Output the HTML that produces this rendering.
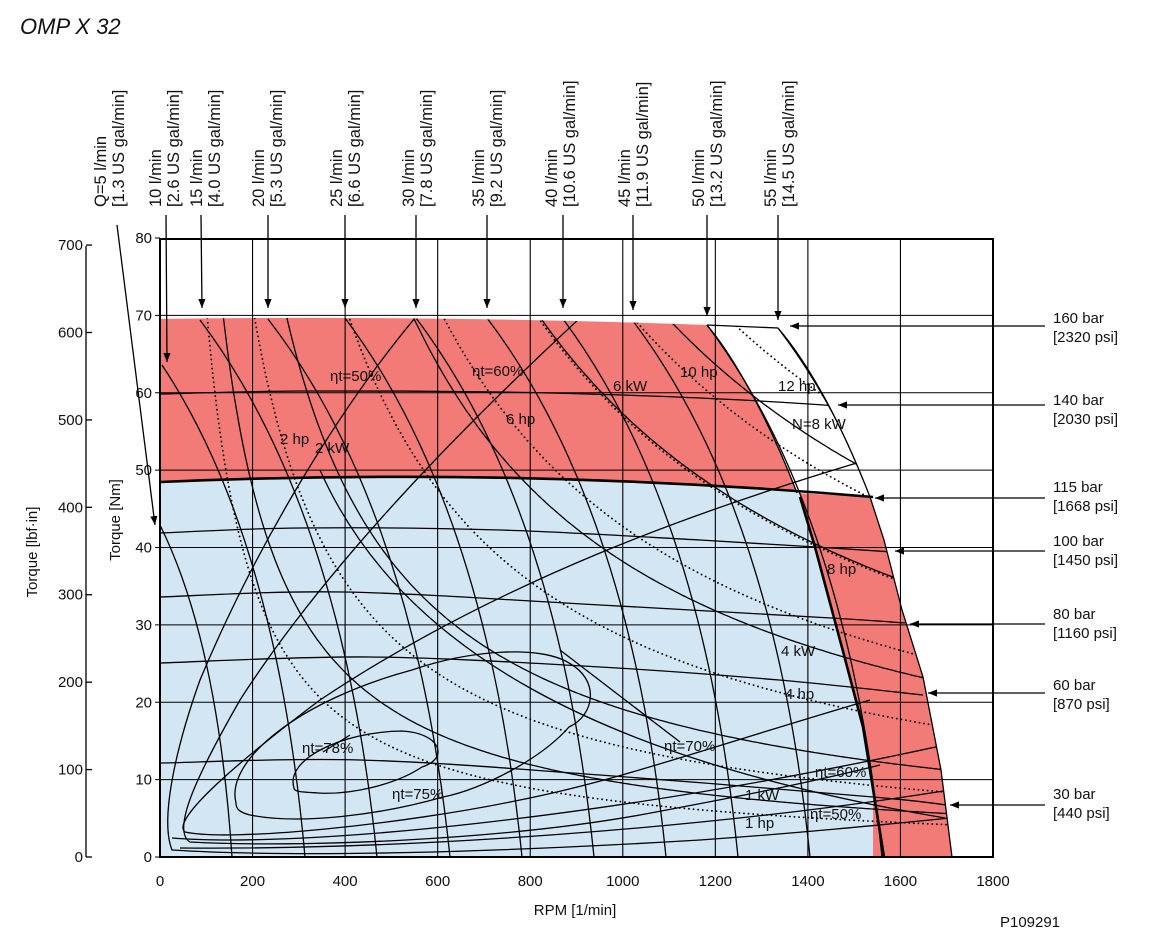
<!DOCTYPE html>
<html><head><meta charset="utf-8"><style>
html,body{margin:0;padding:0;background:#fff}
svg{display:block}
text{font-family:"Liberation Sans",sans-serif;fill:#111}
</style></head><body>
<svg id="s" width="1163" height="948" viewBox="0 0 1163 948" xmlns="http://www.w3.org/2000/svg">
<defs>
<marker id="ar" viewBox="0 0 10 10" refX="10" refY="5" markerWidth="9" markerHeight="9" markerUnits="userSpaceOnUse" orient="auto"><path d="M0,1 L10,5 L0,9 Z" fill="#000"/></marker>
<clipPath id="env"><path d="M160,319 Q430,315 707,325 L778,328 C808,363 840,420 870,497 L884,540 902,610 923,677 941,770 952,857 L160,857 Z"/></clipPath>
<clipPath id="leftb"><path d="M0,0 L800,0 800,497 815,547 844,655 863,727 884,857 L0,857 Z"/></clipPath>
</defs>
<text x="20" y="34" font-size="22" font-style="italic">OMP X 32</text>
<path d="M160,319 Q430,315 707,325 C730,352 765,410 797,493 L870,497 884,540 902,610 923,677 941,770 952,857 L160,857 Z" fill="#f27a77"/>
<path d="M160,482 Q516,466.5 873,497 L873,857 L160,857 Z" fill="#d3e6f3" clip-path="url(#leftb)"/>
<g id="grid" stroke="#000" stroke-width="1.1" fill="none"></g>
<g id="curves" clip-path="url(#env)" fill="none" stroke="#000" stroke-width="1.3"></g>
<g id="outer" fill="none" stroke="#000" stroke-width="1.3">
<path d="M707,325 L778,328 C808,363 840,420 870,497"/>
<path d="M707,325 C730,352 765,410 797,493"/>
<path d="M870,497 L884,540 902,610 923,677 941,770 952,857"/>
<path d="M160,482 Q516,466.5 873,497" stroke-width="2.6"/>
<path d="M800,497 L815,547 844,655 863,727 884,857" stroke-width="2.6"/>
</g>
<rect x="160" y="239" width="833" height="618" fill="none" stroke="#000" stroke-width="2"/>
<g id="labels" font-size="15"></g>
<g id="axes" font-size="15"></g>
</svg>
<script>
var NS="http://www.w3.org/2000/svg";
function el(p,tag,a,txt){var e=document.createElementNS(NS,tag);for(var k in a)e.setAttribute(k,a[k]);if(txt!=null)e.textContent=txt;document.getElementById(p).appendChild(e);return e;}
function X(n){return 160+n*0.46278;}
function Y(t){return 857-t*7.7375;}
for(var r=200;r<1800;r+=200)el("grid","line",{x1:X(r),y1:239,x2:X(r),y2:857});
for(var t=10;t<80;t+=10)el("grid","line",{x1:160,y1:Y(t),x2:993,y2:Y(t)});
function pl(pts){return "M"+pts.map(function(p){return p[0]+","+p[1]}).join(" L");}
function sm(pts){var d="M"+pts[0][0]+","+pts[0][1];for(var i=0;i<pts.length-1;i++){var p0=pts[i-1]||pts[i],p1=pts[i],p2=pts[i+1],p3=pts[i+2]||p2;
d+=" C"+(p1[0]+(p2[0]-p0[0])/6)+","+(p1[1]+(p2[1]-p0[1])/6)+" "+(p2[0]-(p3[0]-p1[0])/6)+","+(p2[1]-(p3[1]-p1[1])/6)+" "+p2[0]+","+p2[1];}return d;}
function hyp(P,dot){var pts=[];for(var n=60;n<=1800;n+=5){var T=P*9549/n;if(T>82)continue;pts.push([X(n).toFixed(1),Y(T).toFixed(1)]);}
var a={d:pl(pts)};if(dot){a["stroke-dasharray"]="0.1 4.5";a["stroke-linecap"]="round";a["stroke-width"]="1.8";}el("curves","path",a);}
[1,2,4,6,8].forEach(function(p){hyp(p,false)});
[1,2,4,6,8,10,12].forEach(function(h){hyp(h*0.7457,true)});
var fl=[[160,525,232],[162,365,305],[200,320,377],[268,319,450],[345,318,522],[416,318,594],[487,318,666],[563,319,738],[633,321,810],[707,325,882],[778,328,954]];
fl.forEach(function(f){var cx=f[2]-(f[2]-f[0])*0.2,cy=f[1]+(857-f[1])*0.35;el("curves","path",{d:"M"+f[0]+","+f[1]+" Q"+cx+","+cy+" "+f[2]+",857"});});
[[[160,394],[300,391],[500,392],[650,396],[760,401],[838,406]],
 [[160,533],[300,528],[500,530],[700,540],[816,547],[893,552]],
 [[160,597],[344,592],[600,605],[831,618],[905,623]],
 [[160,663],[370,657],[600,667],[779,680],[923,695]],
 [[160,763],[360,760],[600,775],[873,797],[947,805]]].forEach(function(p){el("curves","path",{d:sm(p)});});
var eff=[
"M294,788 C285,760 340,732 402,731 C440,733 450,758 422,767 C395,785 350,795 318,793 C302,792 294,792 294,788 Z",
"M236,803 C225,760 300,700 412,670 C470,650 540,645 569,663 C600,680 595,715 569,727 C540,760 480,790 443,797 C380,815 300,825 250,815 C238,812 236,808 236,803 Z",
"M860,462 C700,510 500,580 320,700 C240,760 170,820 185,832 C230,842 400,825 520,800 C620,780 700,750 870,700",
"M580,318 C470,420 330,560 240,700 C200,770 170,830 190,842 C300,848 500,840 640,815 C720,800 800,785 880,765",
"M415,318 C330,420 250,560 200,680 C175,750 160,820 172,850 C300,858 500,852 700,840 C800,833 880,825 950,818",
"M320,470 C400,650 600,760 945,818",
"M172,838 C300,848 600,820 945,745",
"M180,848 C400,850 700,830 950,790"];
eff.forEach(function(d){el("curves","path",{d:d});});
el("curves","path",{d:"M323,752 L350,735"});
el("curves","path",{d:"M560,650 L680,742"});
var pr=[["160 bar","[2320 psi]",318,326,790],["140 bar","[2030 psi]",400,405,838],["115 bar","[1668 psi]",487,498,875],["100 bar","[1450 psi]",541,551,895],["80 bar","[1160 psi]",614,624,910],["60 bar","[870 psi]",685,693,928],["30 bar","[440 psi]",794,805,950]];
pr.forEach(function(p){el("labels","text",{x:1053,y:p[2]+5},p[0]);el("labels","text",{x:1053,y:p[2]+24},p[1]);
el("labels","line",{x1:1045,y1:p[3],x2:p[4],y2:p[3],stroke:"#000","stroke-width":1.3,"marker-end":"url(#ar)"});});
var q=[["Q=5 l/min","[1.3 US gal/min]",100,[117,225,155,525]],["10 l/min","[2.6 US gal/min]",155,[166,215,167,362]],["15 l/min","[4.0 US gal/min]",196,[201,215,202,308]],["20 l/min","[5.3 US gal/min]",258,[268,215,268,308]],["25 l/min","[6.6 US gal/min]",336,[345,215,345,308]],["30 l/min","[7.8 US gal/min]",408,[416,215,416,308]],["35 l/min","[9.2 US gal/min]",478,[487,215,487,308]],["40 l/min","[10.6 US gal/min]",551,[563,215,563,308]],["45 l/min","[11.9 US gal/min]",624,[633,215,633,310]],["50 l/min","[13.2 US gal/min]",698,[707,215,707,316]],["55 l/min","[14.5 US gal/min]",770,[778,215,778,320]]];
q.forEach(function(a){el("labels","text",{transform:"translate("+(a[2]+6)+",207) rotate(-90)","font-size":"16.5"},a[0]);
el("labels","text",{transform:"translate("+(a[2]+24)+",207) rotate(-90)","font-size":"16.5"},a[1]);
var l=a[3];var pts={x1:l[0],y1:l[1],x2:l[2],y2:l[3]};
pts.stroke="#000";pts["stroke-width"]=1.3;pts["marker-end"]="url(#ar)";el("labels","line",pts);});
[["ηt=50%",330,381],["ηt=60%",472,376],["2 hp",280,444],["2 kW",315,453],["6 hp",506,424],["6 kW",613,391],["10 hp",680,377],["12 hp",778,391],["N=8 kW",792,429],["8 hp",827,574],["4 kW",781,656],["4 hp",785,699],["ηt=78%",302,753],["ηt=75%",392,799],["ηt=70%",664,751],["ηt=60%",815,777],["1 kW",745,800],["ηt=50%",810,819],["1 hp",745,828]].forEach(function(t){el("labels","text",{x:t[1],y:t[2]},t[0]);});
for(var i=0;i<=8;i++){el("axes","text",{x:152,y:Y(i*10)+5,"text-anchor":"end"},String(i*10));el("axes","line",{x1:155,y1:Y(i*10),x2:160,y2:Y(i*10),stroke:"#000"});}
el("axes","line",{x1:86,y1:246,x2:86,y2:857,stroke:"#000","stroke-width":1.3});
for(var i=0;i<=7;i++){var y=857-i*100*0.11298*7.7375;el("axes","line",{x1:86,y1:y,x2:92,y2:y,stroke:"#000","stroke-width":1.3});el("axes","text",{x:83,y:y+5,"text-anchor":"end"},String(i*100));}
for(var r=0;r<=1800;r+=200)el("axes","text",{x:X(r),y:886,"text-anchor":"middle"},String(r));
el("axes","text",{x:575,y:915,"text-anchor":"middle"},"RPM [1/min]");
el("axes","text",{x:1030,y:927,"text-anchor":"middle"},"P109291");
el("axes","text",{transform:"translate(37,552) rotate(-90)","text-anchor":"middle"},"Torque [lbf·in]");
el("axes","text",{transform:"translate(120,520) rotate(-90)","text-anchor":"middle"},"Torque [Nm]");
</script>
</body></html>
